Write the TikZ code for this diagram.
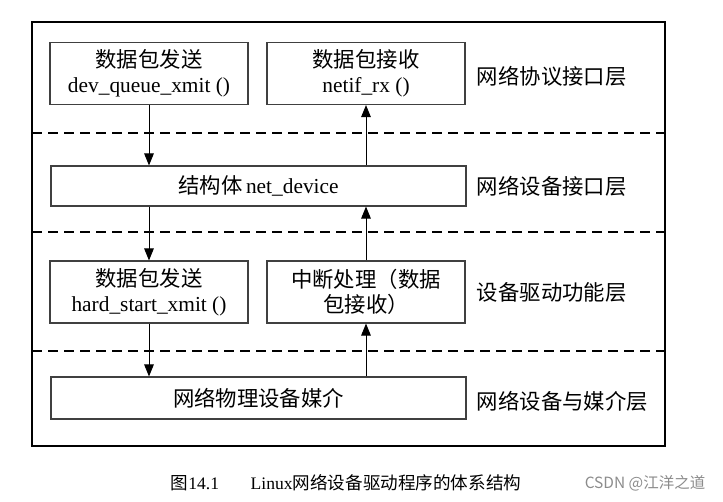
\documentclass[tikz,border=0pt]{standalone}
\usepackage{fontspec}
\setmainfont{Liberation Serif}
\newfontfamily\cjk{Noto Sans CJK SC}
\usetikzlibrary{arrows.meta}

\begin{document}
\begin{tikzpicture}[x=0.025cm, y=-0.025cm,
       box/.style = {draw=black!75, line width=0.8pt, align=center,
                     inner sep=0pt, font=\fontsize{15.2}{18}\selectfont,
                     minimum width=#1},
     small/.style = {box=4.95cm, minimum height=1.55cm},
      wide/.style = {box=10.375cm},
     layer/.style = {anchor=west, font=\cjk\fontsize{15.2}{18}\selectfont},
   divider/.style = {draw, line width=0.9pt, dash pattern=on 0.25cm off 0.15cm},
every edge/.style = {draw, line width=0.7pt,
                     -{Triangle[length=0.3cm, width=0.24cm]}}
                        ]
\useasboundingbox (0,0) rectangle (723,501);
\draw[line width=1.2pt] (32,22) rectangle (665,446);

\node (send1) at (149,73.5) [small] {{\cjk 数据包发送}\\dev\_queue\_xmit ()};
\node (recv1) at (366,73.5) [small] {{\cjk 数据包接收}\\netif\_rx ()};
\node (netdev) at (258.5,186) [wide, minimum height=1cm] {{\cjk 结构体}\,net\_device};
\node (send2) at (149,292) [small] {{\cjk 数据包发送}\\hard\_start\_xmit ()};
\node (irq) at (366,292) [small] {{\cjk 中断处理（数据}\\{\cjk 包接收）}};
\node (media) at (258.5,398) [wide, minimum height=1.05cm] {\cjk 网络物理设备媒介};

\node (l1) at (472,76) [layer] {网络协议接口层};
\node (l2) at (472,186) [layer] {网络设备接口层};
\node (l3) at (472,292) [layer] {设备驱动功能层};
\node (l4) at (472,401) [layer] {网络设备与媒介层};

% layer dividers
\path[divider] (32,133) -- (665,133)
               (32,232) -- (665,232)
               (32,351) -- (665,351);

\path   (send1) edge (send1 |- netdev.north)
        (recv1 |- netdev.north) edge (recv1)
        (send1 |- netdev.south) edge (send2)
        (irq) edge (irq |- netdev.south)
        (send2) edge (send2 |- media.north)
        (irq |- media.north) edge (irq);

\node (caption) at (346,483) {\fontsize{12.5}{15}\selectfont
      {\cjk 图}14.1\hspace{1.8em}Linux{\cjk 网络设备驱动程序的体系结构}};
\node (mark) at (645,483) [text=black!45] {\cjk\fontsize{11}{13}\selectfont CSDN @江洋之道};
\end{tikzpicture}
\end{document}
